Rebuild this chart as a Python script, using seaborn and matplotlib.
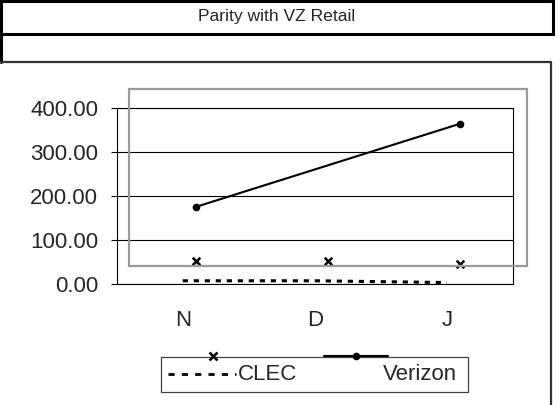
import numpy as np
import pandas as pd
import matplotlib
matplotlib.use("Agg")
import matplotlib.pyplot as plt
from matplotlib.patches import Rectangle
from matplotlib.lines import Line2D
from matplotlib.transforms import Affine2D
import seaborn as sns

# Data
months = ["N", "D", "J"]
clec_line = [8, 8, 4]          # dotted CLEC line
clec_points = [52, 52, 46]     # x markers
verizon = [176, np.nan, 365]   # Verizon (no value for D)
y_ticks = [0, 100, 200, 300, 400]

sns.set_style("white")
plt.rcParams["font.family"] = ["Liberation Sans", "DejaVu Sans"]

W, H = 559, 405
fig = plt.figure(figsize=(W / 100, H / 100), dpi=100)

# pixel coordinates (origin top-left) -> figure
px = Affine2D().scale(1 / W, -1 / H).translate(0, 1) + fig.transFigure

x0, x1, ytop, ybot = 116.7, 513, 108.3, 284.3
ax = fig.add_axes([x0 / W, 1 - ybot / H, (x1 - x0) / W, (ybot - ytop) / H])

idx = np.arange(len(months))
df_line = pd.DataFrame({"x": idx + 0.5, "y": clec_line})
df_pts = pd.DataFrame({"x": idx + 0.6, "y": clec_points})
df_vz = pd.DataFrame({"x": idx + 0.6, "y": verizon}).dropna()

sns.lineplot(data=df_line, x="x", y="y", ax=ax, color="black", lw=2.2,
             linestyle=(0, (1.7, 1.9)), zorder=3)
sns.scatterplot(data=df_pts, x="x", y="y", ax=ax, marker="x", s=30,
                color="black", linewidth=1.8, zorder=4)
sns.lineplot(data=df_vz, x="x", y="y", ax=ax, color="black", lw=1.5,
             marker="o", markersize=5.5, markeredgewidth=0, zorder=4)

ax.set_xlim(0, 3)
ax.set_ylim(0, 400)
ax.set_xlabel("")
ax.set_ylabel("")

ax.set_yticks(y_ticks)
ax.set_yticklabels([f"{v:.2f}" for v in y_ticks], fontsize=16)
ax.yaxis.grid(True, color="black", lw=0.8)
ax.set_axisbelow(True)

ax.set_xticks(idx + 0.5)
ax.set_xticklabels(months, fontsize=16)
ax.set_xticks([0, 1, 2, 3], minor=True)
ax.tick_params(axis="x", which="major", length=0, pad=18.5)
ax.tick_params(axis="x", which="minor", length=5.2, width=0.8, direction="out", color="black")
ax.tick_params(axis="y", length=4.3, width=0.8, direction="out", pad=9, color="black", left=True)

for side in ["left", "bottom", "right", "top"]:
    ax.spines[side].set_color("black")
    ax.spines[side].set_linewidth(0.8)

# Excel-like boxes around the chart
fig.add_artist(Rectangle((1, 1), 552, 33, transform=px, fill=False,
                         edgecolor="black", lw=2.2))
fig.add_artist(Line2D([1, 1], [34, 62], transform=px, color="black", lw=2.2))
fig.add_artist(Line2D([0, 551, 551], [62, 62, 405], transform=px,
                      color="#333333", lw=1.6))
fig.add_artist(Rectangle((129.3, 89.3), 397.4, 176.5, transform=px, fill=False,
                         edgecolor="#9a9a9a", lw=1.6))

fig.text(277, 17, "Parity with VZ Retail", transform=px, ha="center", va="center",
         fontsize=12.6)

# legend
fig.add_artist(Rectangle((161, 357), 307, 35, transform=px, fill=False,
                         edgecolor="#404040", lw=0.9))
fig.add_artist(Line2D([168, 236], [373.5, 373.5], transform=px, color="black",
                      lw=2.0, linestyle=(0, (2.2, 2.6))))
fig.add_artist(Line2D([213], [356], transform=px, color="black", marker="x",
                      markersize=5.5, markeredgewidth=1.8, lw=0))
fig.add_artist(Line2D([324, 388], [356, 356], transform=px, color="black", lw=1.5))
fig.add_artist(Line2D([356], [356], transform=px, color="black", marker="o",
                      markersize=5.5, markeredgewidth=0, lw=0))
fig.text(238, 374, "CLEC", transform=px, ha="left", va="center", fontsize=16)
fig.text(457, 374, "Verizon", transform=px, ha="right", va="center", fontsize=16)

fig.savefig("out.png", dpi=100, facecolor="white")
